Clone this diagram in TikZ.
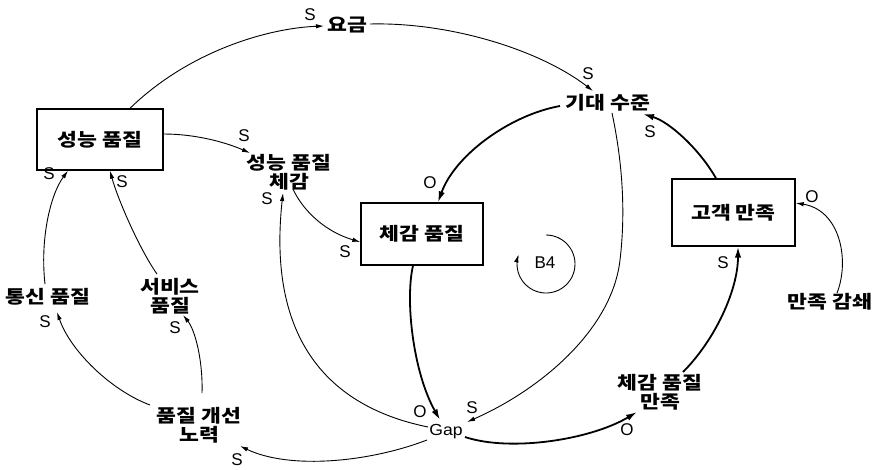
\documentclass[tikz,border=0pt]{standalone}
\usepackage{fontspec}
\setmainfont{Liberation Sans}
\newfontfamily\kr{Noto Sans CJK KR}[FakeStretch=1.2]
\newfontfamily\wide{Liberation Sans}[FakeStretch=1.1]
\usetikzlibrary{arrows.meta}
\tikzset{
  box/.style={draw,line width=1.4pt,inner sep=0pt,font=\kr\bfseries\fontsize{18}{19}\selectfont},
  lbl/.style={inner sep=0pt,align=center,font=\kr\bfseries\fontsize{18}{19}\selectfont},
  lat/.style={inner sep=0pt,font=\wide\fontsize{16}{18}\selectfont},
  pol/.style={inner sep=0pt,font=\fontsize{17}{18}\selectfont},
  link/.style={line width=0.9pt,-{Latex[length=8pt,width=4.5pt]}},
  tlink/.style={line width=1.8pt,-{Latex[length=11pt,width=6.5pt]}},
}
\begin{document}
\begin{tikzpicture}[x=1pt,y=-1pt]
\useasboundingbox (0,0) rectangle (875,469);
% boxes
\node[box,minimum width=126pt,minimum height=61pt] (pq) at (100,139.5) {성능 품질};
\node[box,minimum width=122pt,minimum height=62pt] (pb) at (422,234) {체감 품질};
\node[box,minimum width=123pt,minimum height=67pt] (cb) at (733.5,212.5) {고객 만족};
% labels
\node[lbl] (fee) at (347,25) {요금};
\node[lbl] (expect) at (608,103) {기대 수준};
\node[lbl] (pqp) at (289,172) {성능 품질\\체감};
\node[lat] (gap) at (446,432) {Gap};
\node[lbl] (pqs) at (660,392) {체감 품질\\만족};
\node[lbl] (decay) at (830,302) {만족 감쇄};
\node[lbl] (comm) at (48,297) {통신 품질};
\node[lbl] (serv) at (170,296) {서비스\\품질};
\node[lbl] (effort) at (199,425) {품질 개선\\노력};
\node[pol] (b4) at (545,263) {B4};
% connectors
\draw[link] ([shift={(30,0)}]pq.north) .. controls (190,50) and (270,28) .. ([shift={(-23,1)}]fee.center);
\draw[link] ([shift={(23,-1)}]fee.center) .. controls (450,22) and (540,50) .. ([shift={(-15,-12)}]expect.center);
\draw[tlink] ([shift={(-48,3)}]expect.center) .. controls (510,115) and (455,155) .. ([shift={(16,0)}]pb.north);
\draw[link] ([shift={(0,-5.5)}]pq.east) .. controls (195,134) and (225,142) .. ([shift={(-39,-19)}]pqp.center);
\draw[link] ([shift={(4,17)}]pqp.center) .. controls (300,205) and (320,230) .. ([shift={(0,8)}]pb.west);
\draw[link] ([shift={(-18,-5)}]gap.center) .. controls (320,405) and (268,330) .. ([shift={(-6,21)}]pqp.center);
\draw[tlink] ([shift={(-9,0)}]pb.south) .. controls (405,300) and (413,372) .. ([shift={(-6,-12)}]gap.center);
\draw[link] ([shift={(4,10)}]expect.center) .. controls (622,160) and (626,210) .. (620,260) .. controls (612,330) and (540,390) .. ([shift={(21,-10)}]gap.center);
\draw[tlink] ([shift={(19,5)}]gap.center) .. controls (510,452) and (590,440) .. ([shift={(-23,20)}]pqs.center);
\draw[tlink] ([shift={(23,-20)}]pqs.center) .. controls (715,340) and (738,290) .. ([shift={(4.5,0)}]cb.south);
\draw[tlink] ([shift={(-17.5,0)}]cb.north) .. controls (700,150) and (670,122) .. ([shift={(35,11)}]expect.center);
\draw[link] ([shift={(7,-9)}]decay.center) .. controls (850,260) and (840,210) .. ([shift={(0,-9.5)}]cb.east);
\draw[link] ([shift={(-3,-13)}]comm.center) .. controls (40,240) and (50,195) .. ([shift={(-32,0)}]pq.south);
\draw[link] ([shift={(-13,-22)}]serv.center) .. controls (140,250) and (118,200) .. ([shift={(10,0)}]pq.south);
\draw[link] ([shift={(3,-32)}]effort.center) .. controls (203,360) and (195,330) .. ([shift={(13,19)}]serv.center);
\draw[link] ([shift={(-49,-20)}]effort.center) .. controls (110,390) and (70,350) .. ([shift={(9,15)}]comm.center);
\draw[link] ([shift={(-19,8)}]gap.center) .. controls (370,462) and (290,470) .. ([shift={(41,21)}]effort.center);
% B4 loop marker
\draw[link] plot[domain=-90:199,samples=50,smooth] ({546+29*cos(\x)},{264+29*sin(\x)});
% polarity labels
\node[pol] at (310,15) {S};
\node[pol] at (588,74) {S};
\node[pol] at (430,183) {O};
\node[pol] at (244,136) {S};
\node[pol] at (345,252) {S};
\node[pol] at (267,199) {S};
\node[pol] at (420,412) {O};
\node[pol] at (472,408) {S};
\node[pol] at (627,430) {O};
\node[pol] at (723,263) {S};
\node[pol] at (650,132) {S};
\node[pol] at (812,197) {O};
\node[pol] at (49,174) {S};
\node[pol] at (122,182) {S};
\node[pol] at (45,322) {S};
\node[pol] at (175,328) {S};
\node[pol] at (237,460) {S};
\end{tikzpicture}
\end{document}
